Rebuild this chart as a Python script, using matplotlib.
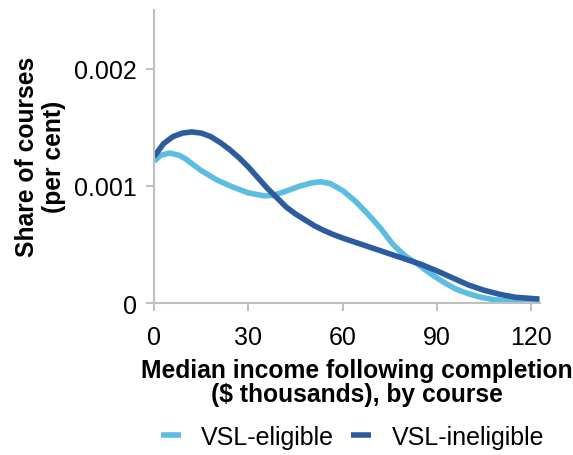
import matplotlib
matplotlib.use("Agg")
import matplotlib.pyplot as plt

plt.rcParams['font.family'] = ['Liberation Sans', 'DejaVu Sans']

# income ($ thousands) and density
x_elig = [0, 2, 5, 8, 10, 15, 20, 25, 30, 35, 38, 42, 46, 50, 53, 56, 60, 64, 68,
          72, 76, 80, 84, 88, 92, 96, 100, 104, 108, 112, 116, 120, 122.6]
y_elig = [1.21, 1.26, 1.28, 1.26, 1.23, 1.13, 1.05, 0.99, 0.94, 0.915, 0.92, 0.955,
          0.995, 1.025, 1.035, 1.02, 0.96, 0.87, 0.76, 0.64, 0.50, 0.40, 0.33, 0.25,
          0.18, 0.12, 0.08, 0.05, 0.03, 0.02, 0.016, 0.015, 0.015]

x_inel = [0, 3, 6, 9, 12, 15, 18, 21, 24, 27, 30, 33, 36, 39, 42, 45, 48, 51, 54,
          57, 60, 65, 70, 75, 80, 85, 90, 95, 100, 105, 110, 115, 120, 122.6]
y_inel = [1.25, 1.36, 1.42, 1.45, 1.46, 1.45, 1.42, 1.37, 1.31, 1.24, 1.16, 1.07,
          0.98, 0.90, 0.82, 0.76, 0.71, 0.66, 0.62, 0.585, 0.555, 0.51, 0.465, 0.42,
          0.375, 0.33, 0.275, 0.215, 0.155, 0.11, 0.075, 0.05, 0.04, 0.035]

y_elig = [v / 1000 for v in y_elig]
y_inel = [v / 1000 for v in y_inel]

xticks = [0, 30, 60, 90, 120]
yticks = [0, 0.001, 0.002]
ytick_labels = ['0', '0.001', '0.002']

light = '#5bbde0'
dark = '#2c5c9e'
grey = '#c0c0c0'

fig = plt.figure(figsize=(5.73, 4.56), dpi=100)
ax = fig.add_axes([0.269, 0.333, 0.673, 0.643])

ax.plot(x_elig, y_elig, color=light, lw=4, solid_capstyle='butt', label='VSL-eligible')
ax.plot(x_inel, y_inel, color=dark, lw=4, solid_capstyle='butt', label='VSL-ineligible')

ax.set_xlim(0, 122.7)
ax.set_ylim(0, 0.0025)
ax.set_xticks(xticks)
ax.set_yticks(yticks)
ax.set_yticklabels(ytick_labels)

for s in ['top', 'right']:
    ax.spines[s].set_visible(False)
for s in ['left', 'bottom']:
    ax.spines[s].set_color(grey)
    ax.spines[s].set_linewidth(1.5)
ax.tick_params(direction='out', length=5.5, width=1.5, color=grey,
               labelsize=18, pad=7)
ax.tick_params(axis='x', pad=10)

fig.text(0.623, 0.16, 'Median income following completion\n($ thousands), by course',
         ha='center', va='center', ma='center', fontsize=17.7, fontweight='bold',
         linespacing=1.02)
fig.text(0.07, 0.656, 'Share of courses\n(per cent)', rotation=90,
         ha='center', va='center', ma='center', fontsize=17.7, fontweight='bold',
         linespacing=1.15)

fig.legend(loc='center', bbox_to_anchor=(0.615, 0.04), ncol=2, frameon=False,
           fontsize=18, handlelength=0.8, handletextpad=0.8, columnspacing=0.7)

fig.savefig('out.png', dpi=100)
